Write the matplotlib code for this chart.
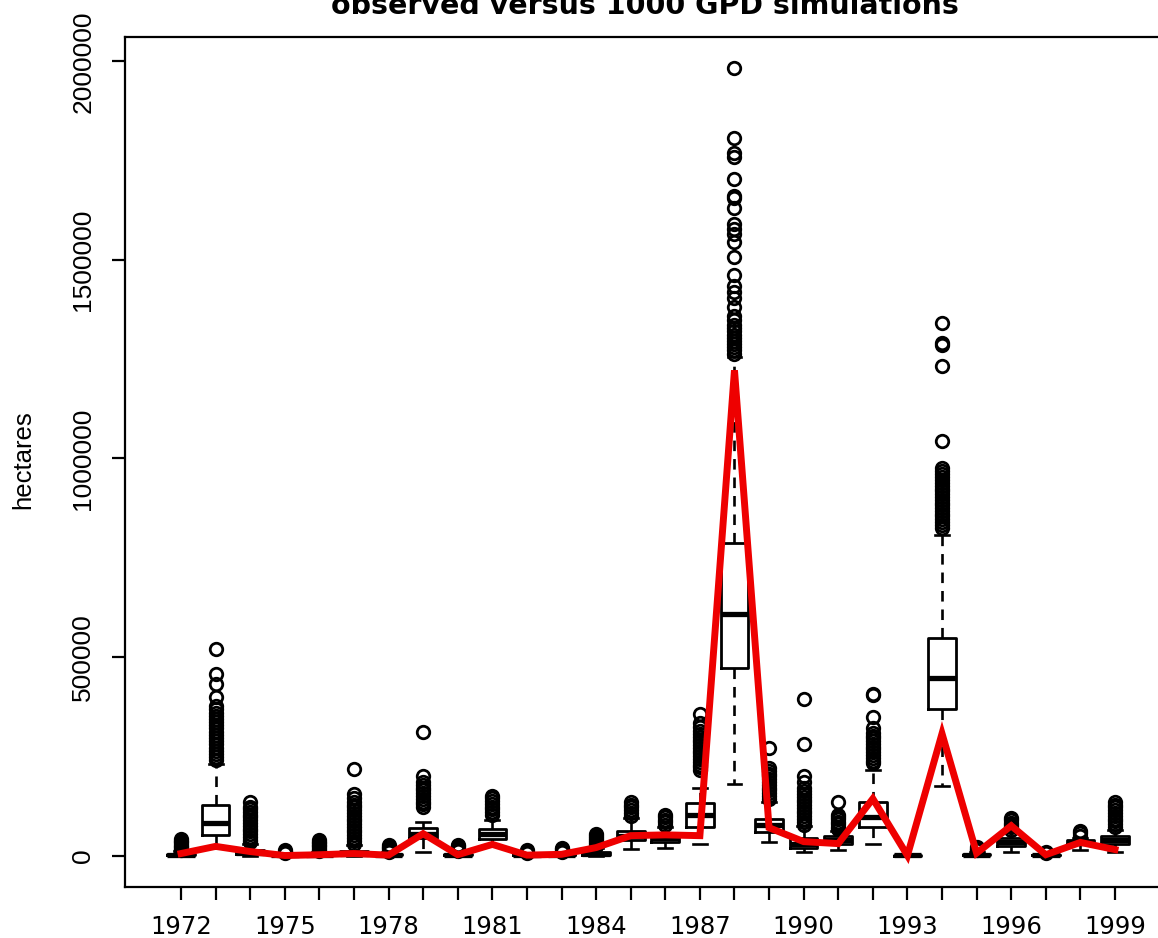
import numpy as np
import matplotlib.pyplot as plt

# simulated burnt area per year: box statistics (hectares)
years = list(range(1972, 2000))

whislo = [0, 20000, 0, 0, 0, 0, 0, 10000, 0, 25000, 0, 0, 0, 17000,
          20000, 30000, 179000, 33000, 8000, 13000, 28000, 0, 174000, 0,
          10000, 0, 13000, 10000]
q1 = [1000, 52000, 3000, 500, 800, 2000, 500, 43000, 500, 41000, 300, 500, 2000, 38000,
      33000, 73000, 471000, 58000, 20000, 28000, 71000, 0, 368000, 1000,
      25000, 300, 28000, 28000]
med = [2500, 82000, 6000, 1000, 2000, 5000, 1500, 55000, 1500, 53000, 800, 1200, 5000, 50000,
       43000, 101000, 607000, 76000, 30000, 38000, 96000, 300, 448000, 2500,
       33000, 1000, 32000, 38000]
q3 = [5000, 127000, 14000, 2000, 4000, 12000, 3500, 70000, 4000, 67000, 2000, 2500, 10000, 62000,
      53000, 131000, 786000, 93000, 43000, 48000, 134000, 1500, 549000, 5000,
      43000, 2500, 38000, 48000]
whishi = [11000, 230000, 30000, 4500, 9000, 27000, 8000, 85000, 9000, 90000, 5000, 6000, 20000, 95000,
          72000, 171000, 1255000, 135000, 75000, 62000, 215000, 3000, 806000, 10000,
          60000, 5000, 45000, 65000]

fliers = [
    [13000, 17000, 21000, 25000, 29000, 33000, 37000, 41000],
    [240000, 248000, 256000, 264000, 272000, 280000, 288000, 296000, 304000, 312000,
     320000, 328000, 336000, 344000, 352000, 360000, 368000, 376000,
     398000, 431000, 456000, 519000],
    [33000, 40000, 47000, 54000, 61000, 68000, 75000, 82000, 89000, 96000,
     103000, 110000, 117000, 122000, 134000],
    [6000, 8000, 10000, 13000],
    [11000, 15000, 19000, 23000, 27000, 31000, 35000, 38000],
    [30000, 37000, 44000, 51000, 58000, 65000, 72000, 79000, 86000, 93000,
     100000, 107000, 114000, 121000, 128000, 134000, 146000, 156000, 217000],
    [10000, 14000, 18000, 22000, 26000],
    [122000, 129000, 136000, 143000, 150000, 157000, 164000, 171000, 178000, 185000,
     200000, 310000],
    [11000, 15000, 19000, 23000, 27000],
    [102000, 109000, 116000, 123000, 130000, 137000, 144000, 150000],
    [7000, 10000, 13000],
    [8000, 12000, 16000, 19000],
    [23000, 28000, 33000, 38000, 43000, 48000, 53000],
    [100000, 107000, 114000, 121000, 128000, 135000],
    [78000, 84000, 90000, 96000, 102000],
    [215000, 222000, 229000, 236000, 243000, 250000, 257000, 264000, 271000, 278000,
     285000, 292000, 299000, 306000, 313000, 323000, 333000, 357000],
    [1264000, 1272000, 1280000, 1288000, 1296000, 1304000, 1312000, 1320000, 1328000,
     1336000, 1348000, 1358000, 1381000, 1403000, 1419000, 1433000, 1461000, 1506000,
     1544000, 1565000, 1578000, 1590000, 1630000, 1655000, 1662000, 1703000, 1760000,
     1768000, 1806000, 1982000],
    [143000, 150000, 157000, 164000, 171000, 178000, 185000, 192000, 199000, 206000,
     213000, 220000, 270000],
    [78000, 85000, 92000, 99000, 106000, 113000, 120000, 127000, 134000, 141000,
     148000, 155000, 162000, 169000, 185000, 200000, 282000, 395000],
    [67000, 73000, 79000, 85000, 91000, 97000, 103000, 134000],
    [232000, 239000, 246000, 253000, 260000, 267000, 274000, 281000, 288000, 295000,
     302000, 309000, 322000, 350000, 403000, 407000],
    [],
    [826000, 833000, 840000, 847000, 854000, 861000, 868000, 875000, 882000, 889000,
     896000, 903000, 910000, 917000, 924000, 931000, 938000, 945000, 952000, 960000,
     968000, 975000, 1045000, 1232000, 1285000, 1290000, 1340000],
    [13000, 17000, 21000],
    [65000, 71000, 77000, 83000, 89000, 95000],
    [7000, 9000],
    [50000, 56000, 62000],
    [72000, 79000, 86000, 93000, 100000, 107000, 114000, 121000, 128000, 135000],
]

# observed burnt area (red line)
observed = [5000, 23000, 10000, 0, 2000, 5000, 1000, 55000, 2000, 28000, 1000, 3000,
            20000, 50000, 52000, 50000, 1222000, 70000, 35000, 30000, 143000, 0,
            307000, 6000, 75000, 2000, 33000, 15000]

yticks = [0, 500000, 1000000, 1500000, 2000000]

stats = []
for i in range(len(years)):
    stats.append(dict(whislo=whislo[i], q1=q1[i], med=med[i], q3=q3[i],
                      whishi=whishi[i], fliers=fliers[i]))

pos = np.arange(1, len(years) + 1)

fig = plt.figure(figsize=(11.58, 9.38), dpi=100)
ax = fig.add_axes([125 / 1158, 1 - 887 / 938, 1046 / 1158, 850 / 938])

ax.bxp(stats, positions=pos, widths=0.8, capwidths=0.4,
       boxprops=dict(color='black', linewidth=2.0),
       medianprops=dict(color='black', linewidth=3.8, solid_capstyle='butt'),
       whiskerprops=dict(color='black', linewidth=1.9, linestyle=(0, (4, 3))),
       capprops=dict(color='black', linewidth=1.9),
       flierprops=dict(marker='o', markerfacecolor='none', markeredgecolor='black',
                       markersize=9, markeredgewidth=2.0, linestyle='none'))

ax.plot(pos, observed, color='#ee0000', linewidth=5, zorder=10, solid_joinstyle='miter')

allvals = [v for f in fliers for v in f] + whishi
ymax = max(allvals)
ax.set_ylim(-0.04 * ymax, 1.04 * ymax)
ax.set_xlim(0.5 - 0.04 * 28, len(years) + 0.5 + 0.04 * 28)

ax.set_xticks(pos)
ax.set_xticklabels([str(y) if i % 3 == 0 else '' for i, y in enumerate(years)],
                   fontsize=17.5, family='DejaVu Sans')
ax.set_yticks(yticks)
ax.set_yticklabels([str(v) for v in yticks], fontsize=19, family='Liberation Sans',
                   rotation=90, va='center')

ax.tick_params(axis='x', length=9.5, width=1.6, pad=11)
ax.tick_params(axis='y', length=9.5, width=1.6, pad=12)
for s in ax.spines.values():
    s.set_linewidth(1.6)

fig.text(23 / 1158, 1 - 460 / 938, 'hectares', rotation=90, ha='center', va='center',
         fontsize=18.5, family='Liberation Sans')
fig.text(645 / 1158, 1 - 14 / 938, 'observed versus 1000 GPD simulations',
         ha='center', va='baseline', fontsize=20.5, fontweight='bold', family='DejaVu Sans')

fig.savefig('out.png', dpi=100)
